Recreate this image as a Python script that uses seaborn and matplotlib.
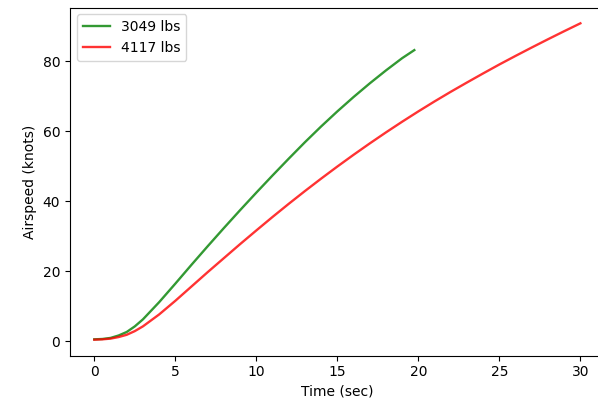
import pandas as pd
import matplotlib
matplotlib.use('Agg')
import matplotlib.pyplot as plt
import seaborn as sns

# Takeoff airspeed vs time, two weights
waktu_ringan = [0, 0.5, 1, 1.5, 2, 2.5, 3, 4, 5, 6, 7, 8, 9, 10, 11, 12, 13, 14, 15, 16,
                17, 18, 19, 19.75]
speed_ringan = [0.6, 0.7, 1.0, 1.7, 2.7, 4.3, 6.3, 11.2, 16.5, 21.9, 27.2, 32.4, 37.5,
                42.5, 47.4, 52.2, 56.9, 61.4, 65.7, 69.8, 73.7, 77.4, 80.9, 83.2]

waktu_berat = [0, 0.5, 1, 1.5, 2, 2.5, 3, 4, 5, 6, 7, 8, 9, 10, 11, 12, 13, 14, 15, 16,
               17, 18, 19, 20, 21, 22, 23, 24, 25, 26, 27, 28, 29, 30]
speed_berat = [0.5, 0.6, 0.8, 1.25, 1.9, 2.95, 4.3, 7.7, 11.6, 15.7, 19.8, 23.8, 27.8,
               31.7, 35.55, 39.3, 42.95, 46.5, 49.95, 53.3, 56.55, 59.7, 62.75, 65.7,
               68.55, 71.3, 73.95, 76.55, 79.1, 81.55, 83.95, 86.3, 88.6, 90.85]

label_ringan = '3049 lbs'
label_berat = '4117 lbs'

df = pd.concat([
    pd.DataFrame({'time': waktu_ringan, 'speed': speed_ringan, 'berat': label_ringan}),
    pd.DataFrame({'time': waktu_berat, 'speed': speed_berat, 'berat': label_berat}),
], ignore_index=True)

fig = plt.figure(figsize=(5.98, 4.08), dpi=100)
ax = fig.add_axes([70 / 598, 52.5 / 408, 534.7 / 598, 348 / 408])

sns.lineplot(data=df, x='time', y='speed', hue='berat',
             palette={label_ringan: 'green', label_berat: 'red'},
             alpha=0.8, linewidth=1.7, ax=ax, sort=False)

ax.set_xlabel('Time (sec)')
ax.set_ylabel('Airspeed (knots)')
ax.legend(loc='upper left', title=None)

fig.savefig('out.png', dpi=100)
